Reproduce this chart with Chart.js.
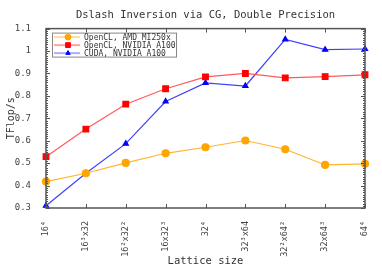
<!DOCTYPE html>
<html>
<head>
<meta charset="utf-8">
<script src="https://cdn.jsdelivr.net/npm/chart.js@4/dist/chart.umd.min.js"></script>
<style>
  html, body { margin: 0; padding: 0; background: #fff; }
  #wrap { width: 382px; height: 268px; }
</style>
</head>
<body>
<div id="wrap"><canvas id="chart" width="382" height="268"></canvas></div>
<script>
var lattices = ["16\u2074", "16\u00b3x32", "16\u00b2x32\u00b2", "16x32\u00b3", "32\u2074", "32\u00b3x64", "32\u00b2x64\u00b2", "32x64\u00b3", "64\u2074"];
var amdOpenCL = [0.418, 0.455, 0.501, 0.544, 0.571, 0.601, 0.562, 0.492, 0.497];
var nvOpenCL = [0.529, 0.652, 0.763, 0.832, 0.885, 0.900, 0.880, 0.886, 0.894];
var nvCuda = [0.310, 0.455, 0.587, 0.775, 0.858, 0.844, 1.052, 1.006, 1.009];
var yTicks = [0.3, 0.4, 0.5, 0.6, 0.7, 0.8, 0.9, 1.0, 1.1];

var monoFont = "'DejaVu Sans Mono', 'Liberation Mono', monospace";
Chart.defaults.font.family = monoFont;
Chart.defaults.color = '#333';

// gnuplot style frame: border + inward ticks + legend box inside the plot
var gnuFrame = {
  id: 'gnuFrame',
  afterDatasetsDraw: function(chart) {
    var c = chart.ctx, a = chart.chartArea;
    var xs = chart.scales.x, ys = chart.scales.y;
    c.save();
    c.strokeStyle = '#555';
    c.lineWidth = 1;
    c.beginPath();
    lattices.forEach(function(l, i) {
      var px = Math.round(xs.getPixelForValue(i)) + 0.5;
      c.moveTo(px, a.bottom); c.lineTo(px, a.bottom - 4);
      c.moveTo(px, a.top); c.lineTo(px, a.top + 4);
    });
    yTicks.forEach(function(v) {
      var py = Math.round(ys.getPixelForValue(v)) + 0.5;
      c.moveTo(a.left, py); c.lineTo(a.left + 4, py);
      c.moveTo(a.right, py); c.lineTo(a.right - 4, py);
    });
    for (var k = 30; k <= 110; k++) {
      var py2 = Math.round(ys.getPixelForValue(k / 100)) + 0.5;
      c.moveTo(a.left, py2); c.lineTo(a.left + 2, py2);
      c.moveTo(a.right, py2); c.lineTo(a.right - 2, py2);
    }
    c.stroke();
    c.lineWidth = 1.5;
    c.strokeRect(a.left, a.top, a.right - a.left, a.bottom - a.top);

    // legend
    var lx = a.left + 6, ly = a.top + 4, lw = 124, lh = 24;
    c.fillStyle = '#fff';
    c.fillRect(lx, ly, lw, lh);
    c.lineWidth = 1;
    c.strokeStyle = '#888';
    c.strokeRect(lx + 0.5, ly + 0.5, lw, lh);
    c.font = "8px " + monoFont;
    c.textBaseline = 'middle';
    chart.data.datasets.forEach(function(ds, i) {
      var yy = ly + 4.5 + i * 8;
      c.strokeStyle = ds.legendLine;
      c.lineWidth = 2;
      c.beginPath(); c.moveTo(lx + 2, yy); c.lineTo(lx + 28, yy); c.stroke();
      c.fillStyle = ds.pointBackgroundColor;
      c.strokeStyle = ds.pointBorderColor;
      c.lineWidth = 1;
      Chart.helpers.drawPoint(c, {pointStyle: ds.pointStyle, radius: ds.pointRadius * 0.85, borderWidth: 1}, lx + 16, yy);
      c.fillStyle = '#333';
      c.fillText(ds.label, lx + 32, yy + 0.5);
    });
    c.restore();
  }
};

new Chart(document.getElementById('chart'), {
  type: 'line',
  data: {
    labels: lattices,
    datasets: [
      {
        label: 'OpenCL, AMD MI250x',
        data: amdOpenCL,
        borderColor: '#ffb52e',
        backgroundColor: '#ffa500',
        pointBackgroundColor: '#ffa500',
        pointBorderColor: '#ffa500',
        legendLine: 'rgba(255,190,80,0.55)',
        pointStyle: 'circle',
        pointRadius: 3.5,
        borderWidth: 1.2
      },
      {
        label: 'OpenCL, NVIDIA A100',
        data: nvOpenCL,
        borderColor: '#ff5a5a',
        backgroundColor: '#ff0000',
        pointBackgroundColor: '#ff0000',
        pointBorderColor: '#ff0000',
        legendLine: 'rgba(255,90,90,0.55)',
        pointStyle: 'rect',
        pointRadius: 4,
        borderWidth: 1.2
      },
      {
        label: 'CUDA, NVIDIA A100',
        data: nvCuda,
        borderColor: '#4040ff',
        backgroundColor: '#0000ff',
        pointBackgroundColor: '#0000ff',
        pointBorderColor: '#0000ff',
        legendLine: 'rgba(110,110,255,0.55)',
        pointStyle: 'triangle',
        pointRadius: 3,
        borderWidth: 1.2
      }
    ]
  },
  options: {
    responsive: false,
    animation: false,
    clip: false,
    layout: { padding: { top: 0, right: 17, left: 0, bottom: 0 } },
    plugins: {
      legend: { display: false },
      tooltip: { enabled: false },
      title: {
        display: true,
        fullSize: false,
        text: 'Dslash Inversion via CG, Double Precision',
        font: { size: 10.5, weight: 'normal' },
        color: '#333',
        padding: { top: 9, bottom: 7 }
      }
    },
    scales: {
      x: {
        offset: false,
        grid: { display: false },
        border: { display: false },
        ticks: {
          minRotation: 90,
          maxRotation: 90,
          autoSkip: false,
          padding: 5,
          font: { size: 8.5 },
          color: '#444'
        },
        title: {
          display: true,
          text: 'Lattice size',
          font: { size: 10.5 },
          color: '#333',
          padding: { top: 0, bottom: 0 }
        },
        afterFit: function(s) { s.height = 60; }
      },
      y: {
        min: 0.3,
        max: 1.1,
        grid: { display: false },
        border: { display: false },
        afterBuildTicks: function(s) { s.ticks = yTicks.map(function(v) { return { value: v }; }); },
        ticks: {
          padding: 7,
          font: { size: 9 },
          color: '#444',
          callback: function(v) { return Number(v.toFixed(1)) === 1 ? '1' : v.toFixed(1); }
        },
        title: {
          display: true,
          text: 'TFlop/s',
          font: { size: 10 },
          color: '#333',
          padding: { top: 5, bottom: 0 }
        },
        afterFit: function(s) { s.width = 46; }
      }
    }
  },
  plugins: [gnuFrame]
});
</script>
</body>
</html>
